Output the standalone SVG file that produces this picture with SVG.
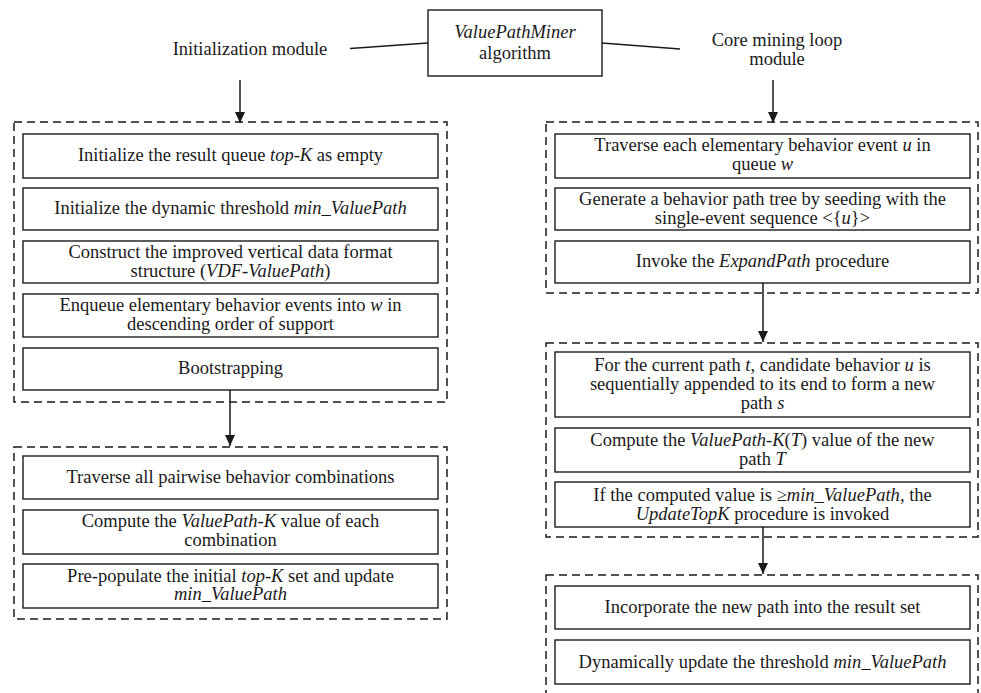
<svg xmlns="http://www.w3.org/2000/svg" width="981" height="693" viewBox="0 0 981 693">
<defs>
<marker id="arr" viewBox="0 0 11 10" refX="11" refY="5" markerWidth="11" markerHeight="10" markerUnits="userSpaceOnUse" orient="auto">
<path d="M0,0 L11,5 L0,10 Z" fill="#1a1a1a"/>
</marker>
<style>
text{font-family:'Liberation Serif','Times New Roman','DejaVu Serif',serif;font-size:18.5px;fill:#1a1a1a;text-anchor:middle}
.i{font-style:italic}
.box{fill:#fff;stroke:#1a1a1a;stroke-width:1.4}
.grp{fill:none;stroke:#1a1a1a;stroke-width:1.5;stroke-dasharray:8 5}
.ln{fill:none;stroke:#1a1a1a;stroke-width:1.5}
</style>
</defs>
<rect width="981" height="693" fill="#fff"/>

<g id="groups">
<rect class="grp" x="14" y="122" width="433" height="280"/>
<rect class="grp" x="14" y="447" width="433" height="172"/>
<rect class="grp" x="546" y="122" width="432" height="171"/>
<rect class="grp" x="546" y="343" width="432" height="194"/>
<rect class="grp" x="546" y="575" width="432" height="130"/>
</g>

<g id="connectors">
<polyline class="ln" points="350,48.5 428,43"/>
<polyline class="ln" points="602,43 680,49"/>
<line class="ln" x1="240" y1="80" x2="240" y2="123" marker-end="url(#arr)"/>
<line class="ln" x1="773" y1="80" x2="773" y2="123" marker-end="url(#arr)"/>
<line class="ln" x1="230" y1="390" x2="230" y2="446" marker-end="url(#arr)"/>
<line class="ln" x1="763" y1="283" x2="763" y2="342" marker-end="url(#arr)"/>
<line class="ln" x1="763" y1="527" x2="763" y2="574" marker-end="url(#arr)"/>
</g>

<g id="root">
<rect class="box" x="428" y="10" width="174" height="66"/>
<text x="515" y="38" font-family="Liberation Serif, serif"><tspan class="i">ValuePathMiner</tspan></text>
<text x="515" y="59" font-family="Liberation Serif, serif">algorithm</text>
</g>

<g id="initModule">
<text x="250" y="55" font-family="Liberation Serif, serif">Initialization module</text>
</g>

<g id="coreModule">
<text x="777" y="45.5" font-family="Liberation Serif, serif">Core mining loop</text>
<text x="777" y="64.5" font-family="Liberation Serif, serif">module</text>
</g>

<g id="L1"><rect class="box" x="23" y="134" width="415" height="44"/>
<text x="230.5" y="161" font-family="Liberation Serif, serif">Initialize the result queue <tspan class="i">top-K</tspan> as empty</text></g>
<g id="L2"><rect class="box" x="23" y="188" width="415" height="42"/>
<text x="230.5" y="214" font-family="Liberation Serif, serif">Initialize the dynamic threshold <tspan class="i">min_ValuePath</tspan></text></g>
<g id="L3"><rect class="box" x="23" y="241" width="415" height="42"/>
<text x="230.5" y="258" font-family="Liberation Serif, serif">Construct the improved vertical data format</text>
<text x="230.5" y="277" font-family="Liberation Serif, serif">structure (<tspan class="i">VDF-ValuePath</tspan>)</text></g>
<g id="L4"><rect class="box" x="23" y="294" width="415" height="43"/>
<text x="230.5" y="311" font-family="Liberation Serif, serif">Enqueue elementary behavior events into <tspan class="i">w</tspan> in</text>
<text x="230.5" y="330" font-family="Liberation Serif, serif">descending order of support</text></g>
<g id="L5"><rect class="box" x="23" y="348" width="415" height="42"/>
<text x="230.5" y="374" font-family="Liberation Serif, serif">Bootstrapping</text></g>

<g id="M1"><rect class="box" x="23" y="456" width="415" height="43"/>
<text x="230.5" y="483" font-family="Liberation Serif, serif">Traverse all pairwise behavior combinations</text></g>
<g id="M2"><rect class="box" x="23" y="510" width="415" height="44"/>
<text x="230.5" y="526.5" font-family="Liberation Serif, serif">Compute the <tspan class="i">ValuePath-K</tspan> value of each</text>
<text x="230.5" y="546" font-family="Liberation Serif, serif">combination</text></g>
<g id="M3"><rect class="box" x="23" y="564" width="415" height="44"/>
<text x="230.5" y="581.5" font-family="Liberation Serif, serif">Pre-populate the initial <tspan class="i">top-K</tspan> set and update</text>
<text x="230.5" y="600" font-family="Liberation Serif, serif"><tspan class="i">min_ValuePath</tspan></text></g>

<g id="R1"><rect class="box" x="555" y="134" width="415" height="44"/>
<text x="762.5" y="151" font-family="Liberation Serif, serif">Traverse each elementary behavior event <tspan class="i">u</tspan> in</text>
<text x="762.5" y="170" font-family="Liberation Serif, serif">queue <tspan class="i">w</tspan></text></g>
<g id="R2"><rect class="box" x="555" y="188" width="415" height="42"/>
<text x="762.5" y="205" font-family="Liberation Serif, serif">Generate a behavior path tree by seeding with the</text>
<text x="762.5" y="224" font-family="Liberation Serif, serif">single-event sequence &lt;{<tspan class="i">u</tspan>}&gt;</text></g>
<g id="R3"><rect class="box" x="555" y="241" width="415" height="42"/>
<text x="762.5" y="267" font-family="Liberation Serif, serif">Invoke the <tspan class="i">ExpandPath</tspan> procedure</text></g>

<g id="S1"><rect class="box" x="555" y="352" width="415" height="65"/>
<text x="762.5" y="370.5" font-family="Liberation Serif, serif">For the current path <tspan class="i">t</tspan>, candidate behavior <tspan class="i">u</tspan> is</text>
<text x="762.5" y="390" font-family="Liberation Serif, serif">sequentially appended to its end to form a new</text>
<text x="762.5" y="409" font-family="Liberation Serif, serif">path <tspan class="i">s</tspan></text></g>
<g id="S2"><rect class="box" x="555" y="428" width="415" height="44"/>
<text x="762.5" y="446" font-family="Liberation Serif, serif">Compute the <tspan class="i">ValuePath-K</tspan>(<tspan class="i">T</tspan>) value of the new</text>
<text x="762.5" y="465" font-family="Liberation Serif, serif">path <tspan class="i">T</tspan></text></g>
<g id="S3"><rect class="box" x="555" y="482" width="415" height="45"/>
<text x="762.5" y="501" font-family="Liberation Serif, serif">If the computed value is ≥<tspan class="i">min_ValuePath</tspan>, the</text>
<text x="762.5" y="520" font-family="Liberation Serif, serif"><tspan class="i">UpdateTopK</tspan> procedure is invoked</text></g>

<g id="U1"><rect class="box" x="555" y="586" width="415" height="43"/>
<text x="762.5" y="613" font-family="Liberation Serif, serif">Incorporate the new path into the result set</text></g>
<g id="U2"><rect class="box" x="555" y="640" width="415" height="44"/>
<text x="762.5" y="667.5" font-family="Liberation Serif, serif">Dynamically update the threshold <tspan class="i">min_ValuePath</tspan></text></g>
</svg>
